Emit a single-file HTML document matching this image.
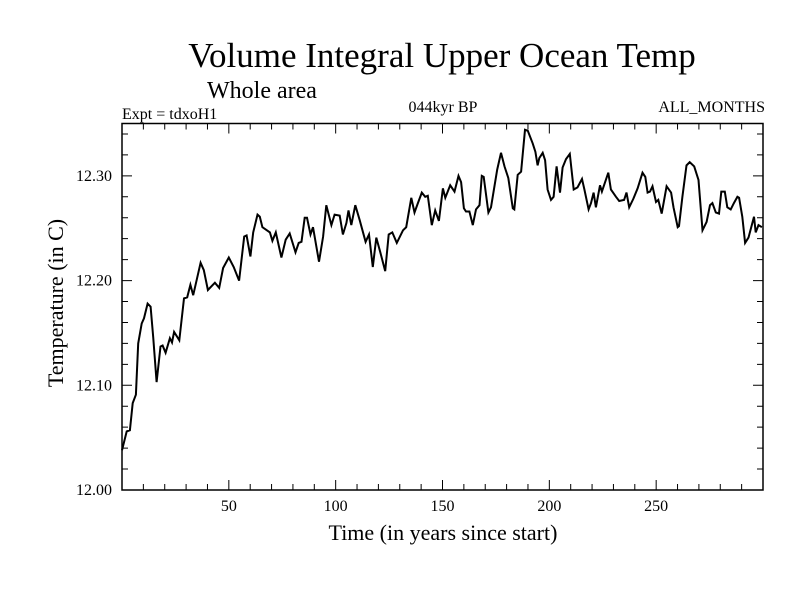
<!DOCTYPE html>
<html><head><meta charset="utf-8"><style>
body{margin:0;background:#fff}
svg text{font-family:"Liberation Serif",serif;fill:#000}
</style></head><body>
<svg id="c" width="800" height="600" xmlns="http://www.w3.org/2000/svg">
<text x="442" y="67" font-size="35" text-anchor="middle">Volume Integral Upper Ocean Temp</text>
<text x="207" y="98" font-size="24">Whole area</text>
<text x="122" y="119" font-size="16">Expt = tdxoH1</text>
<text x="443" y="112" font-size="16" text-anchor="middle">044kyr BP</text>
<text x="765" y="112" font-size="16" text-anchor="end">ALL_MONTHS</text>
<text x="443" y="540" font-size="22" text-anchor="middle">Time (in years since start)</text>
<text transform="translate(63,303) rotate(-90)" font-size="22" text-anchor="middle">Temperature (in C)</text>
<g id="axes"></g>
<path id="line" fill="none" stroke="#000" stroke-width="2"></path>
</svg>
<script>
const years=[0,2.2,3.7,5,6.5,7.6,9.2,10.3,12,13.4,14.6,16.2,18,19,20.4,22.4,23.4,24.4,26.8,29,30.5,32,33.3,36.8,38.3,40.2,43.5,45.5,47.3,50,52.3,54.8,57.2,58.3,60.1,61.4,63.4,64.5,65.7,69.2,70.4,72,74.6,76.6,78.5,81.2,82.7,84,85.5,86.6,88.2,89.4,92.2,94.1,95.6,98,99.5,101.9,103.4,105,106,107.3,109.2,111.2,114,115.6,117.4,119,120.9,123.2,124.8,126.5,128.6,131.5,133,135.4,136.9,138.5,140.3,141.9,143.1,145,146.6,148.3,150.2,151.3,153.6,155.6,157.5,158.7,160,161,162.6,164.2,165.7,167.3,168.4,169.3,171.5,172.7,175.6,177.4,179,180.8,182.9,183.6,185.2,186.8,188.6,189.9,192.2,193.5,194.5,195.3,196.9,198,199.2,200.8,202,203.4,205,206.2,207.8,209.6,211.4,213.2,215.3,216.4,218.4,219.5,220.7,221.8,223.7,224.6,227.6,228.8,231.2,232.7,235,236.1,237.4,239.3,241.3,243.6,244.9,246,247.1,248.3,249.9,251,252.6,254.9,257,258.1,260.1,260.7,262.3,264.2,265.7,267.8,269.8,271.7,273.6,275.2,276.3,277.9,279.4,280.5,282.1,283.3,284.9,286.4,288,288.8,290.3,291.6,293.2,295.8,296.6,297.9,299.5];
const temps=[12.038,12.056,12.057,12.083,12.091,12.140,12.159,12.164,12.178,12.175,12.146,12.103,12.137,12.138,12.131,12.145,12.141,12.151,12.143,12.183,12.184,12.196,12.186,12.217,12.210,12.191,12.198,12.193,12.212,12.222,12.213,12.200,12.242,12.243,12.223,12.246,12.263,12.261,12.251,12.246,12.238,12.246,12.222,12.239,12.245,12.227,12.236,12.237,12.260,12.260,12.244,12.251,12.218,12.242,12.272,12.253,12.263,12.262,12.244,12.255,12.267,12.253,12.272,12.258,12.237,12.244,12.213,12.241,12.227,12.209,12.244,12.246,12.236,12.248,12.251,12.279,12.265,12.274,12.284,12.280,12.281,12.253,12.267,12.257,12.288,12.279,12.291,12.285,12.300,12.294,12.269,12.266,12.266,12.253,12.268,12.272,12.300,12.299,12.265,12.270,12.306,12.322,12.309,12.298,12.269,12.268,12.301,12.304,12.344,12.343,12.331,12.323,12.310,12.317,12.322,12.315,12.287,12.277,12.280,12.309,12.284,12.308,12.316,12.321,12.287,12.289,12.297,12.287,12.268,12.274,12.284,12.270,12.291,12.285,12.303,12.287,12.280,12.276,12.277,12.284,12.270,12.278,12.288,12.303,12.299,12.284,12.285,12.290,12.275,12.277,12.264,12.290,12.284,12.270,12.251,12.252,12.280,12.310,12.313,12.309,12.296,12.248,12.256,12.272,12.274,12.265,12.264,12.285,12.285,12.270,12.268,12.274,12.280,12.279,12.261,12.236,12.241,12.261,12.246,12.253,12.251];
const xTickLabels=[50,100,150,200,250];
const yTickLabels=["12.00","12.10","12.20","12.30"];
const X0=122,X1=763,Y0=490,Y1=123.5,XMIN=0,XMAX=300,YMIN=12.0,YMAX=12.35;
const sx=v=>X0+(v-XMIN)/(XMAX-XMIN)*(X1-X0);
const sy=v=>Y0-(v-YMIN)/(YMAX-YMIN)*(Y0-Y1);
const NS="http://www.w3.org/2000/svg";
const ax=document.getElementById('axes');
function mk(t,a){const e=document.createElementNS(NS,t);for(const k in a)e.setAttribute(k,a[k]);ax.appendChild(e);return e;}
const fr=mk('rect',{x:X0,y:Y1,width:X1-X0,height:Y0-Y1,fill:'none',stroke:'#000','stroke-width':1.5});


for(let v=10;v<XMAX;v+=10){const L=(v%50===0)?10:6;const x=sx(v);
 const t=mk('path',{d:`M${x},${Y0}v${-L}M${x},${Y1}v${L}`,stroke:'#000','stroke-width':1});
 
 }
xTickLabels.forEach(v=>{const t=mk('text',{x:sx(v),y:Y0+21,'font-size':16,'text-anchor':'middle'});t.textContent=v;
 
 });
for(let i=1;i<=17;i++){const v=YMIN+i*0.02;const L=(i%5===0)?10:6;const y=sy(v);
 const t=mk('path',{d:`M${X0},${y}h${L}M${X1},${y}h${-L}`,stroke:'#000','stroke-width':1});
 
 }
yTickLabels.forEach(s=>{const t=mk('text',{x:X0-10,y:sy(parseFloat(s))+5,'font-size':16,'text-anchor':'end'});t.textContent=s;
 
 });
document.getElementById('line').setAttribute('d',years.map((y,i)=>(i?'L':'M')+sx(y).toFixed(1)+','+sy(temps[i]).toFixed(1)).join(''));
</script>
</body></html>
